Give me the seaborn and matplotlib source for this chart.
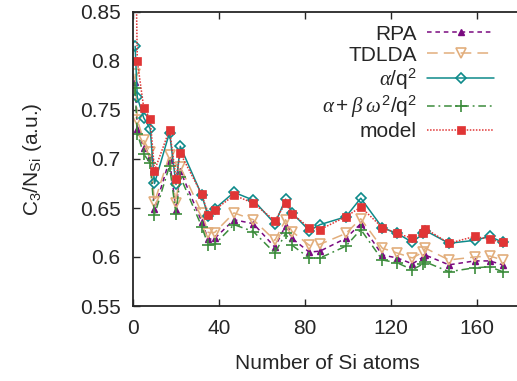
import matplotlib
matplotlib.use("Agg")
import matplotlib.pyplot as plt
import seaborn as sns
import pandas as pd

# ---- data ----
n_atoms = [1, 2, 5, 8, 10, 17, 20, 22, 32, 35, 38, 47, 56, 66, 71, 74, 82, 87,
           99, 106, 116, 123, 130, 135, 136, 147, 159, 166, 172]
rpa = [0.779, 0.731, 0.711, 0.702, 0.649, 0.699, 0.648, 0.688, 0.636, 0.618,
       0.619, 0.638, 0.634, 0.610, 0.632, 0.619, 0.605, 0.606, 0.619, 0.634,
       0.602, 0.599, 0.593, 0.600, 0.602, 0.592, 0.596, 0.596, 0.592]
tdlda = [0.787, 0.740, 0.719, 0.707, 0.656, 0.704, 0.655, 0.692, 0.645, 0.625,
         0.625, 0.645, 0.638, 0.617, 0.638, 0.626, 0.612, 0.613, 0.624, 0.639,
         0.609, 0.604, 0.599, 0.605, 0.609, 0.597, 0.600, 0.601, 0.597]
alpha_q2 = [0.815, 0.763, 0.742, 0.731, 0.675, 0.727, 0.674, 0.713, 0.663, 0.642,
            0.649, 0.666, 0.658, 0.634, 0.659, 0.645, 0.627, 0.633, 0.641, 0.660,
            0.630, 0.624, 0.615, 0.624, 0.627, 0.614, 0.617, 0.621, 0.615]
alpha_beta = [0.772, 0.726, 0.705, 0.696, 0.643, 0.693, 0.644, 0.682, 0.631, 0.612,
              0.613, 0.633, 0.626, 0.604, 0.624, 0.612, 0.599, 0.599, 0.611, 0.628,
              0.597, 0.594, 0.587, 0.593, 0.595, 0.585, 0.589, 0.590, 0.585]
model = [0.950, 0.800, 0.752, 0.741, 0.688, 0.730, 0.680, 0.706, 0.664, 0.643,
         0.648, 0.663, 0.655, 0.637, 0.655, 0.644, 0.630, 0.628, 0.641, 0.651,
         0.630, 0.624, 0.619, 0.624, 0.629, 0.614, 0.621, 0.618, 0.615]

labels = ["RPA", "TDLDA", r"$\alpha/\mathrm{q}^2$",
          r"$\alpha + \beta\;\omega^2/\mathrm{q}^2$", "model"]
x_ticks = [0, 40, 80, 120, 160]
y_ticks = [0.55, 0.6, 0.65, 0.7, 0.75, 0.8, 0.85]
y_ticklabels = ["0.55", "0.6", "0.65", "0.7", "0.75", "0.8", "0.85"]

sns.set_style("ticks")
plt.rcParams["font.family"] = ["Liberation Sans", "DejaVu Sans"]
plt.rcParams["mathtext.fontset"] = "custom"
plt.rcParams["mathtext.rm"] = "Liberation Sans"
plt.rcParams["mathtext.it"] = "Liberation Serif:italic"

fig = plt.figure(figsize=(5.17, 3.81), dpi=100)
ax = fig.add_axes([133 / 517, 1 - 306 / 381, (522 - 133) / 517, (306 - 12) / 381])

styles = [
    dict(color="#7a0a80", ls=(0, (3, 2.5)), marker="^", ms=5, mfc="#7a0a80", mew=1),
    dict(color="#e2ae7c", ls=(0, (7, 4)), marker="v", ms=7, mfc="none", mew=1.2),
    dict(color="#0e8a8a", ls="-", marker="D", ms=5.5, mfc="none", mew=1.2),
    dict(color="#3c8c3c", ls=(0, (5, 2.5, 1.2, 2.5)), marker="+", ms=8, mew=1.2),
    dict(color="#e03535", ls=(0, (1, 1)), marker="s", ms=5.5, mfc="#e03535", mew=0.5),
]
series = [rpa, tdlda, alpha_q2, alpha_beta, model]

handles = []
for vals, st in zip(series, styles):
    df = pd.DataFrame({"n": n_atoms, "c": vals})
    n0 = len(ax.lines)
    sns.lineplot(data=df, x="n", y="c", ax=ax, lw=1.1, sort=False,
                 estimator=None, color=st["color"])
    line = ax.lines[n0]
    line.set_linestyle(st["ls"])
    line.set_marker(st["marker"])
    line.set_markersize(st["ms"])
    line.set_markeredgecolor(st["color"])
    line.set_markerfacecolor(st.get("mfc", st["color"]))
    line.set_markeredgewidth(st["mew"])
    handles.append(line)

ax.set_xlim(0, 181)
ax.set_ylim(0.55, 0.85)
ax.set_xticks(x_ticks)
ax.set_xticklabels([str(t) for t in x_ticks])
ax.set_yticks(y_ticks)
ax.set_yticklabels(y_ticklabels)
ax.tick_params(direction="in", length=5, width=1, labelsize=15, top=True, right=False, pad=9)
for s in ax.spines.values():
    s.set_linewidth(1.3)
ax.set_xlabel("Number of Si atoms", fontsize=15, labelpad=12)
ax.set_ylabel(r"C$_3$/N$_{\mathrm{Si}}$ (a.u.)", fontsize=15, labelpad=26)

ax.legend(handles=handles, labels=labels, loc="upper right",
          bbox_to_anchor=(0.96, 1.0), frameon=False, markerfirst=False,
          fontsize=15, handlelength=3.2, handletextpad=0.5, labelspacing=0.1,
          borderaxespad=0.2)

fig.savefig("out.png", dpi=100)
